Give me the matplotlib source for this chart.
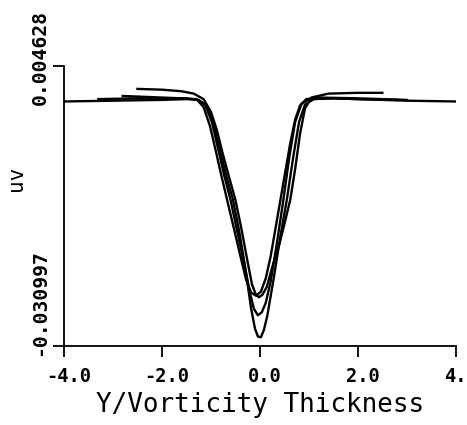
# uv Reynolds-stress profiles across the mixing layer

import matplotlib
matplotlib.use("Agg")
import matplotlib.pyplot as plt
import matplotlib.transforms as mtransforms

# y / vorticity thickness and uv for each station
x_1 = [-4.0, -3.0, -2.0, -1.5, -1.25, -1.1, -0.95, -0.82, -0.68, -0.55,
       -0.42, -0.3, -0.18, -0.1, -0.04, 0.02, 0.08, 0.15, 0.28, 0.42, 0.55,
       0.68, 0.8, 0.92, 1.1, 1.5, 2.0, 3.0, 4.0]
uv_1 = [0.0001, 0.0002, 0.0003, 0.0004, 0.0003, -0.0004, -0.0025, -0.0060,
        -0.0095, -0.0124, -0.0165, -0.0210, -0.0262, -0.0288, -0.0298, -0.0299,
        -0.0290, -0.0272, -0.0225, -0.0170, -0.0124, -0.0070, -0.0025, -0.0003,
        0.0004, 0.0005, 0.0004, 0.0002, 0.0001]

x_2 = [-2.8, -2.4, -2.0, -1.6, -1.3, -1.12, -0.98, -0.85, -0.72, -0.6, -0.46,
       -0.32, -0.2, -0.12, -0.04, 0.04, 0.12, 0.22, 0.35, 0.48, 0.6, 0.72,
       0.85, 1.0, 1.5, 2.0, 2.8]
uv_2 = [0.0008, 0.0007, 0.0006, 0.0005, 0.0004, -0.0003, -0.0025, -0.0060,
        -0.0095, -0.0124, -0.0165, -0.0205, -0.0243, -0.0263, -0.0271, -0.0267,
        -0.0255, -0.0228, -0.0178, -0.0124, -0.0070, -0.0025, -0.0002, 0.0004,
        0.0005, 0.0004, 0.0003]

x_3 = [-2.5, -2.0, -1.6, -1.35, -1.15, -1.0, -0.88, -0.76, -0.63, -0.5, -0.38,
       -0.26, -0.16, -0.08, -0.02, 0.05, 0.14, 0.26, 0.4, 0.52, 0.62, 0.72,
       0.82, 0.92, 1.05, 1.4, 2.0, 2.5]
uv_3 = [0.0017, 0.0016, 0.0014, 0.0011, 0.0004, -0.0012, -0.0035, -0.0065,
        -0.0095, -0.0124, -0.0160, -0.0200, -0.0232, -0.0245, -0.0248, -0.0245,
        -0.0235, -0.0208, -0.0180, -0.0150, -0.0124, -0.0085, -0.0040, -0.0008,
        0.0006, 0.0011, 0.0012, 0.0012]

x_4 = [-3.3, -2.5, -2.0, -1.5, -1.28, -1.15, -1.02, -0.9, -0.78, -0.67, -0.54,
       -0.4, -0.28, -0.18, -0.08, 0.02, 0.12, 0.22, 0.32, 0.42, 0.52, 0.62,
       0.72, 0.82, 0.95, 1.2, 2.0, 3.0]
uv_4 = [0.0004, 0.0005, 0.0005, 0.0005, 0.0003, -0.0006, -0.0030, -0.0062,
        -0.0095, -0.0124, -0.0158, -0.0195, -0.0226, -0.0242, -0.0246, -0.0241,
        -0.0224, -0.0196, -0.0160, -0.0124, -0.0088, -0.0052, -0.0022, -0.0004,
        0.0004, 0.0006, 0.0005, 0.0003]

profiles = [(x_1, uv_1), (x_2, uv_2), (x_3, uv_3), (x_4, uv_4)]

x_ticks = [-4.0, -2.0, 0.0, 2.0, 4.0]
x_tick_labels = ["-4.0", "-2.0", "0.0", "2.0", "4.0"]
y_min, y_max = -0.030997, 0.004628
y_tick_labels = ["-0.030997", "0.004628"]

MONO = "DejaVu Sans Mono"

fig = plt.figure(figsize=(4.67, 4.25), dpi=100)
ax = fig.add_axes([0.137, 0.186, 0.839, 0.659])

for xs, uvs in profiles:
    ax.plot(xs, uvs, color="black", linewidth=1.7, solid_joinstyle="round")

ax.set_xlim(-4.0, 4.0)
ax.set_ylim(y_min, y_max)

ax.spines[["top", "right"]].set_visible(False)
ax.spines[["left", "bottom"]].set_linewidth(1.3)

ax.set_xticks(x_ticks)
ax.set_xticklabels(x_tick_labels, fontfamily=MONO, fontweight="bold", fontsize=13.5)
ax.tick_params(axis="x", direction="out", length=8, width=1.3, pad=7)
shift = mtransforms.ScaledTranslation(5 / 100, 0, fig.dpi_scale_trans)
for lab in ax.get_xticklabels():
    lab.set_transform(lab.get_transform() + shift)

# y ticks only at the two ends, labels written vertically beside the axis
ax.set_yticks([y_min, y_max])
ax.set_yticklabels([])
ax.tick_params(axis="y", direction="out", length=8, width=1.3)
ytrans = ax.get_yaxis_transform()
ax.text(-0.061, y_max, y_tick_labels[1], rotation=90, ha="center", va="center",
        fontfamily=MONO, fontweight="bold", fontsize=14.2,
        transform=mtransforms.offset_copy(ytrans, fig=fig, y=8, units="dots"))
ax.text(-0.061, y_min, y_tick_labels[0], rotation=90, ha="center", va="center",
        fontfamily=MONO, fontweight="bold", fontsize=14.2,
        transform=mtransforms.offset_copy(ytrans, fig=fig, y=43, units="dots"))
ax.text(-0.122, 0.6, "uv", transform=ax.transAxes, rotation=90,
        ha="center", va="center", fontfamily=MONO, fontsize=15)

ax.text(0.5, -0.211, "Y/Vorticity Thickness", transform=ax.transAxes,
        ha="center", va="center", fontfamily=MONO, fontsize=18.7)

fig.savefig("out.png", dpi=100)
